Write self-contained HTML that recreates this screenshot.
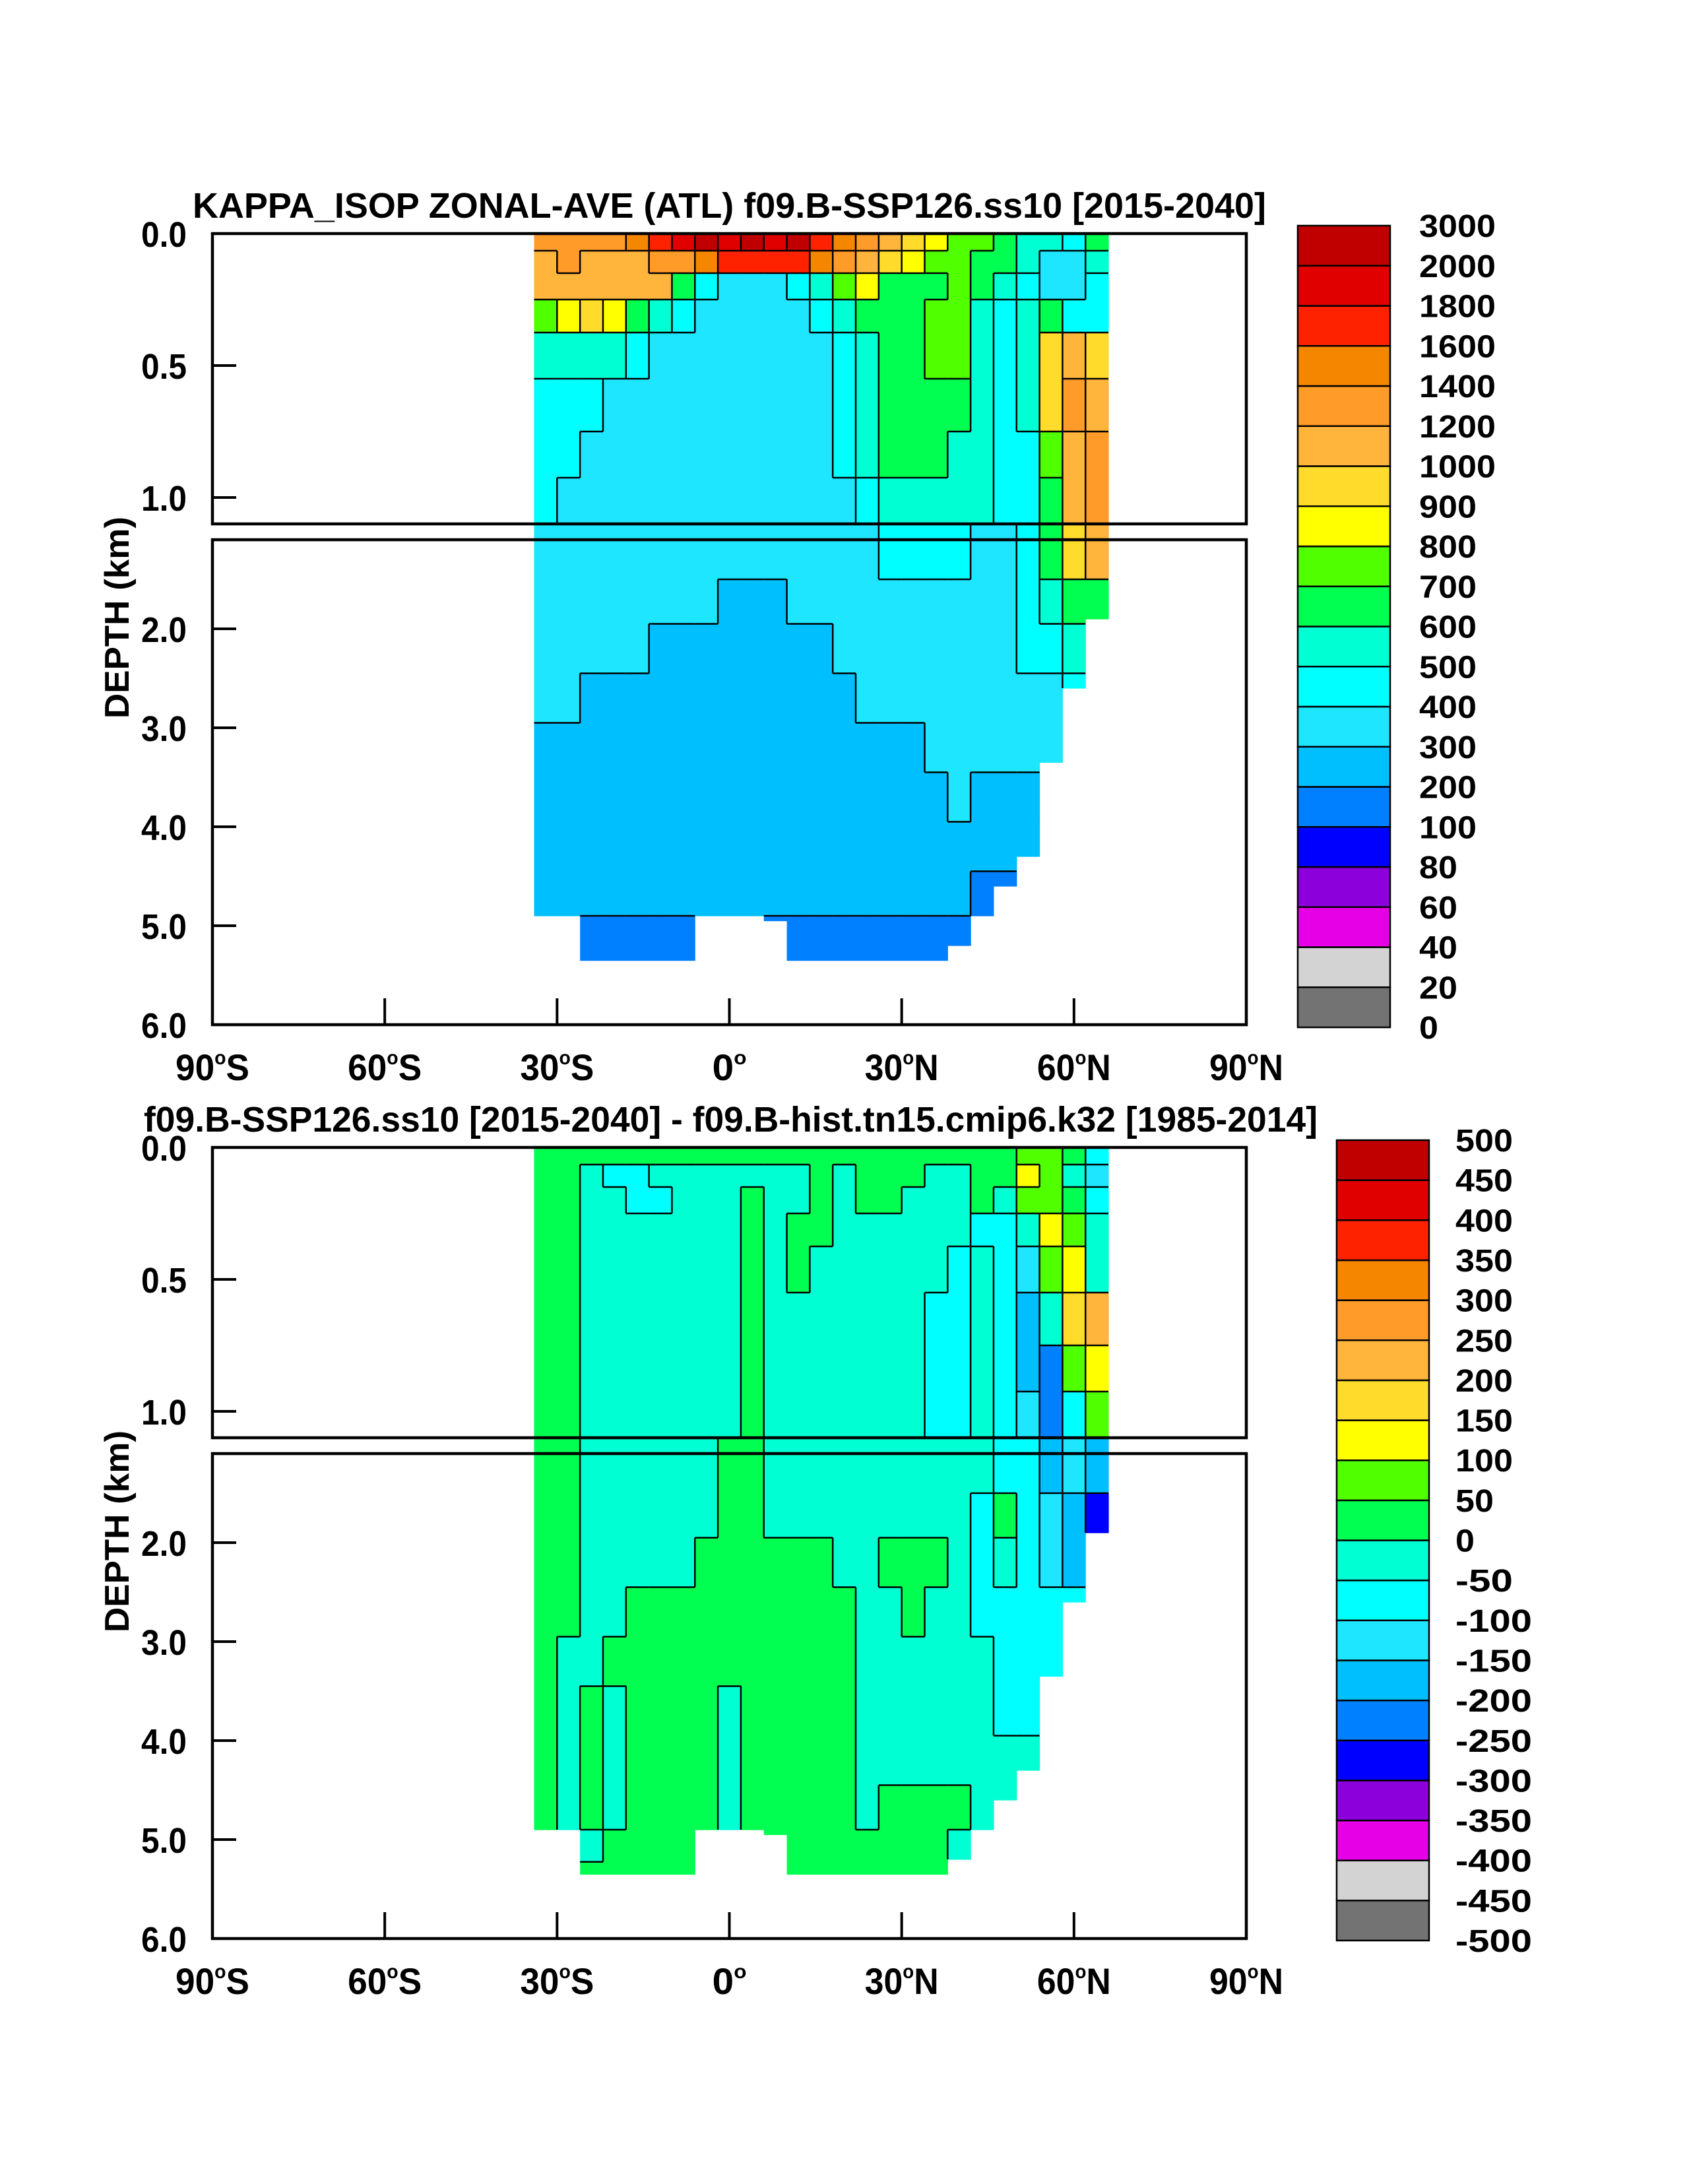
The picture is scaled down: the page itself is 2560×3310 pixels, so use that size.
<!DOCTYPE html>
<html><head><meta charset="utf-8"><style>
html,body{margin:0;padding:0;background:#fff;}
svg{display:block;}
text{font-family:"Liberation Sans",sans-serif;font-weight:bold;fill:#000;}
</style></head>
<body>
<svg id="fig" width="2560" height="3310" viewBox="0 0 2560 3310" xmlns="http://www.w3.org/2000/svg">
<rect x="0" y="0" width="2560" height="3310" fill="#fff"/>
</svg>
<script>
// ---- data ----
const lats = [-32,-28,-24,-20,-16,-12,-8,-4,0,4,8,12,16,20,24,28,32,36,40,44,48,52,56,60,64];
const upperDepths = [0.03,0.1,0.2,0.3,0.45,0.65,0.85,1.0];
const lowerDepths = [1.3,1.7,2.2,2.7,3.2,3.7,4.2,4.7,5.1,5.35];
const bottomDepth = [4.9,4.9,5.35,5.35,5.35,5.35,5.35,4.9,4.9,4.9,4.95,5.35,5.35,5.35,5.35,5.35,5.35,5.35,5.2,4.9,4.6,4.3,3.35,2.6,1.9];
const levels1 = [0,20,40,60,80,100,200,300,400,500,600,700,800,900,1000,1200,1400,1600,1800,2000,3000];
const levels2 = [-500,-450,-400,-350,-300,-250,-200,-150,-100,-50,0,50,100,150,200,250,300,350,400,450,500];
const colors = ["#737373","#d3d3d3","#e600e6","#8c00dc","#0000ff","#0080ff","#00bfff","#1ee6ff","#00ffff","#00ffd2","#00ff50","#50ff00","#ffff00","#ffdc2c","#ffb43c","#ff9b28","#f58700","#ff2200","#e00000","#c00000"];
const kappaRows = [
[1300,1300,1300,1300,1400,1700,1900,2500,1900,2500,1900,2500,1700,1500,1300,1100,950,850,750,750,650,550,550,450,650],
[1100,1300,1100,1100,1100,1300,1300,1500,1700,1700,1700,1700,1500,1300,1100,950,850,750,750,650,650,550,350,350,550],
[1100,1100,1100,1100,1100,1100,650,450,350,350,350,450,550,750,850,650,650,650,750,650,550,450,350,350,450],
[750,850,950,850,650,550,450,350,350,350,350,350,450,550,650,650,650,750,750,550,450,550,650,450,450],
[550,550,550,550,450,350,350,350,350,350,350,350,350,450,550,650,650,750,750,550,450,550,950,1100,950],
[450,450,450,350,350,350,350,350,350,350,350,350,350,450,550,650,650,650,650,550,450,550,950,1300,1100],
[450,450,350,350,350,350,350,350,350,350,350,350,350,450,550,650,650,650,550,550,450,450,750,1100,1300],
[450,350,350,350,350,350,350,350,350,350,350,350,350,350,450,550,550,550,550,550,450,450,650,1100,1300],
[350,350,350,350,350,350,350,350,350,350,350,350,350,350,350,450,450,450,450,350,350,450,650,950,1100],
[350,350,350,350,350,350,350,350,250,250,250,350,350,350,350,350,350,350,350,350,350,450,550,650,650],
[350,350,350,350,350,250,250,250,250,250,250,250,250,350,350,350,350,350,350,350,350,450,450,550,550],
[350,350,250,250,250,250,250,250,250,250,250,250,250,250,350,350,350,350,350,350,350,350,350,450,450],
[250,250,250,250,250,250,250,250,250,250,250,250,250,250,250,250,250,350,350,350,350,350,350,350,350],
[250,250,250,250,250,250,250,250,250,250,250,250,250,250,250,250,250,250,350,250,250,250,250,250,250],
[250,250,250,250,250,250,250,250,250,250,250,250,250,250,250,250,250,250,250,250,250,250,250,250,250],
[250,250,250,250,250,250,250,250,250,250,250,250,250,250,250,250,250,250,250,150,150,150,150,150,150],
[150,150,150,150,150,150,150,150,150,150,150,150,150,150,150,150,150,150,150,150,150,150,150,150,150],
[150,150,150,150,150,150,150,150,150,150,150,150,150,150,150,150,150,150,150,150,150,150,150,150,150]
];
const diffRows = [
[25,25,25,25,25,25,25,25,25,25,25,25,25,25,25,25,25,25,25,25,25,75,75,25,-75],
[25,25,-25,-75,-75,-25,-25,-25,-25,-25,-25,-25,25,-25,25,25,25,-25,-25,25,25,125,75,-25,-125],
[25,25,-25,-25,-75,-75,-25,-25,-25,25,-25,-25,25,-25,25,25,-25,-25,-25,25,-25,75,75,25,-75],
[25,25,-25,-25,-25,-25,-25,-25,-25,25,-25,25,25,-25,-25,-25,-25,-25,-25,-75,-75,-25,125,75,-25],
[25,25,-25,-25,-25,-25,-25,-25,-25,25,-25,25,-25,-25,-25,-25,-25,-25,-75,-25,-75,-125,75,125,-25],
[25,25,-25,-25,-25,-25,-25,-25,-25,25,-25,-25,-25,-25,-25,-25,-25,-75,-75,-25,-75,-175,-25,175,225],
[25,25,-25,-25,-25,-25,-25,-25,-25,25,-25,-25,-25,-25,-25,-25,-25,-75,-75,-25,-75,-175,-225,75,125],
[25,25,-25,-25,-25,-25,-25,-25,-25,25,-25,-25,-25,-25,-25,-25,-25,-75,-75,-25,-75,-125,-225,-75,75],
[25,25,-25,-25,-25,-25,-25,-25,25,25,-25,-25,-25,-25,-25,-25,-25,-25,-25,-25,-75,-75,-175,-125,-175],
[25,25,-25,-25,-25,-25,-25,-25,25,25,-25,-25,-25,-25,-25,-25,-25,-25,-25,-75,25,-75,-125,-175,-275],
[25,25,-25,-25,-25,-25,-25,25,25,25,25,25,25,-25,-25,25,25,25,-25,-75,-25,-75,-125,-175,-175],
[25,25,-25,-25,25,25,25,25,25,25,25,25,25,25,-25,-25,25,-25,-25,-75,-75,-75,-75,-75,-75],
[25,-25,-25,25,25,25,25,25,25,25,25,25,25,25,-25,-25,-25,-25,-25,-25,-75,-75,-75,-75,-75],
[25,-25,25,-25,25,25,25,25,-25,25,25,25,25,25,-25,-25,-25,-25,-25,-25,-75,-75,-75,-75,-75],
[25,-25,25,-25,25,25,25,25,-25,25,25,25,25,25,-25,-25,-25,-25,-25,-25,-25,-25,-25,-25,-25],
[25,-25,25,-25,25,25,25,25,-25,25,25,25,25,25,-25,25,25,25,25,-25,-25,-25,-25,-25,-25],
[25,-25,-25,25,25,25,25,25,25,25,25,25,25,25,25,25,25,25,-25,25,-25,-25,-25,-25,-25],
[25,25,25,25,25,25,25,25,25,25,25,25,25,25,25,25,25,25,25,25,25,25,25,25,25]
];
const xTickLabels = ["90°S","60°S","30°S","0°","30°N","60°N","90°N"];
const xTickValues = [-90,-60,-30,0,30,60,90];
const upperTickValues = [0.0,0.5,1.0];
const lowerTickValues = [2.0,3.0,4.0,5.0,6.0];

// ---- helpers ----
const NS = "http://www.w3.org/2000/svg";
const svg = document.getElementById('fig');
function mk(tag, attrs, parent){ const e=document.createElementNS(NS,tag); for(const k in attrs) e.setAttribute(k,attrs[k]); (parent||svg).appendChild(e); return e; }
const X0=322, X1=1889;
function xOf(lat){ return X0 + (lat+90)/180*(X1-X0); }
function colorFor(v, lev){ for(let i=0;i<lev.length-1;i++){ if(v<lev[i+1]) return colors[i]; } return colors[colors.length-1]; }
function binOf(v, lev){ for(let i=0;i<lev.length-1;i++){ if(v<lev[i+1]) return i; } return lev.length-2; }

function drawPanel(off, rows, lev, pname){
  const yU = d => 354+off + d*400;
  const yL = d => 818+off + (d-1.1)*150;
  const yOf = d => d<=1.1 ? yU(d) : yL(d);
  const g = mk('g',{});
  
  
  // depth edges
  const all = upperDepths.concat(lowerDepths);
  const edges=[];
  for(let r=0;r<all.length;r++){
    let top, bot;
    if(r===0) top=0; else if(r===upperDepths.length) top=1.1; else top=(all[r-1]+all[r])/2;
    if(r===upperDepths.length-1) bot=1.1; else if(r===all.length-1) bot=5.4; else bot=(all[r]+all[r+1])/2;
    edges.push([top,bot]);
  }
  const cellInfo=[];
  for(let r=0;r<all.length;r++){
    cellInfo.push([]);
    for(let c=0;c<lats.length;c++){
      const [t,b0]=edges[r];
      const b=Math.min(b0,bottomDepth[c]);
      if(t>=b){cellInfo[r].push(null);continue;}
      const v=rows[r][c];
      const xa=xOf(lats[c]-2), xb=xOf(lats[c]+2);
      const ya=yOf(t), yb=(t<1.1 && b>1.1)?yOf(1.1):yOf(b);
      const rc=mk('rect',{x:xa.toFixed(1),y:ya.toFixed(1),width:(xb-xa+0.6).toFixed(1),height:(yb-ya+0.6).toFixed(1),fill:colorFor(v,lev)},g);
      
      
      cellInfo[r].push({bin:binOf(v,lev),xa,xb,ya,yb});
    }
  }
  // contour-like boundaries
  const cg = mk('g',{stroke:'#000','stroke-width':2.5,fill:'none'});
  
  
  for(let r=0;r<all.length;r++) for(let c=0;c<lats.length;c++){
    const a=cellInfo[r][c]; if(!a) continue;
    if(c+1<lats.length){ const b=cellInfo[r][c+1]; if(b && b.bin!==a.bin){ const l=mk('line',{x1:a.xb,y1:a.ya,x2:a.xb,y2:Math.min(a.yb,b.yb)},cg);   } }
    if(r+1<all.length && r+1!==upperDepths.length){ const b=cellInfo[r+1][c]; if(b && b.bin!==a.bin){ const l=mk('line',{x1:a.xa,y1:a.yb,x2:a.xb,y2:a.yb},cg);   } }
  }
  // frames
  const f1=mk('rect',{x:X0,y:354+off,width:X1-X0,height:440,fill:'none',stroke:'#000','stroke-width':4.5});
   
  const f2=mk('rect',{x:X0,y:818+off,width:X1-X0,height:735,fill:'none',stroke:'#000','stroke-width':4.5});
   
  // x ticks and labels
  xTickValues.forEach((v,i)=>{
    const x=xOf(v);
    if(i>0 && i<xTickValues.length-1){ const t=mk('line',{x1:x,y1:1553+off,x2:x,y2:1513+off,stroke:'#000','stroke-width':4});   }
    const lab=xTickLabels[i];
    const tx=mk('text',{x:x,y:1637+off,'font-size':56,'text-anchor':'middle',textLength:lab.length===2?52:112,lengthAdjust:'spacingAndGlyphs'});
     
    const m=lab.match(/^(\d+)°(.?)$/);
    const s1=mk('tspan',{},tx); s1.textContent=m[1];
    const s2=mk('tspan',{'font-size':30,dy:-24},tx); s2.textContent='o';
    if(m[2]){ const s3=mk('tspan',{dy:24},tx); s3.textContent=m[2]; }
  });
  // y ticks
  const yt=(d,y)=>{ const t=mk('line',{x1:X0,y1:y,x2:X0+36,y2:y,stroke:'#000','stroke-width':4});  
    const tx=mk('text',{x:283,y:y+20,'font-size':54,'text-anchor':'end',textLength:69,lengthAdjust:'spacingAndGlyphs'}); tx.textContent=d.toFixed(1);   };
  upperTickValues.forEach(d=>yt(d,yU(d)));
  lowerTickValues.forEach(d=>yt(d,yL(d)));
  const yl=mk('text',{x:0,y:0,'font-size':52,'text-anchor':'middle',transform:`translate(195,${936+off}) rotate(-90)`,textLength:306,lengthAdjust:'spacingAndGlyphs'});
  yl.textContent='DEPTH (km)';  
}

function drawColorbar(x,y0,y1,w,labels,lx,name){
  const g=mk('g',{});  
  const n=colors.length, h=(y1-y0)/n;
  for(let i=0;i<n;i++){
    const r=mk('rect',{x:x,y:y1-(i+1)*h,width:w,height:h,fill:colors[i],stroke:'#000','stroke-width':2.5},g);
     
  }
  labels.forEach((v,i)=>{
    const s=String(v);
    const t=mk('text',{x:lx,y:y1-i*h+17,'font-size':48,textLength:s.length*29,lengthAdjust:'spacingAndGlyphs'},g);
    t.textContent=s;  
  });
}

drawPanel(0,kappaRows,levels1,'kappa');
drawPanel(1385,diffRows,levels2,'diff');
drawColorbar(1967,342,1557,140,levels1,2151,'colorbar-kappa');
drawColorbar(2026,1728,2941,140,levels2,2206,'colorbar-diff');

const t1=mk('text',{x:292,y:330,'font-size':54,textLength:1627,lengthAdjust:'spacingAndGlyphs'});
t1.textContent='KAPPA_ISOP ZONAL-AVE (ATL) f09.B-SSP126.ss10 [2015-2040]';
 
const t2=mk('text',{x:218,y:1715,'font-size':54,textLength:1779,lengthAdjust:'spacingAndGlyphs'});
t2.textContent='f09.B-SSP126.ss10 [2015-2040] - f09.B-hist.tn15.cmip6.k32 [1985-2014]';
 
</script>
</body></html>
